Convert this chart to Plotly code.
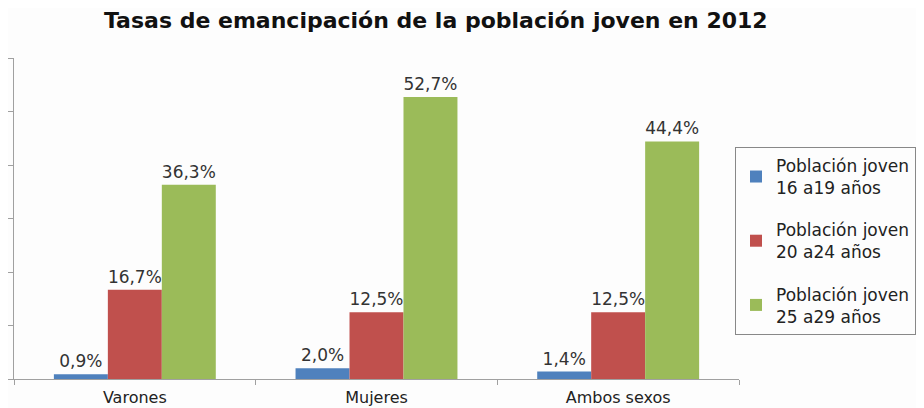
import plotly.graph_objects as go

categories = ["Varones", "Mujeres", "Ambos sexos"]
series_names = ["Población joven<br>16 a19 años",
                "Población joven<br>20 a24 años",
                "Población joven<br>25 a29 años"]
values_16_19 = [0.9, 2.0, 1.4]
values_20_24 = [16.7, 12.5, 12.5]
values_25_29 = [36.3, 52.7, 44.4]

colors = ['#4f81bd', '#c0504d', '#9bbb59']

fig = go.Figure()

for i, (name, vals) in enumerate(zip(series_names, [values_16_19, values_20_24, values_25_29])):
    fig.add_trace(go.Bar(
        x=categories,
        y=vals,
        name=name,
        legendgroup=str(i),
        marker=dict(color=colors[i], line=dict(width=0)),
        text=[f"{v:.1f}%".replace('.', ',') for v in vals],
        textposition='outside',
        textfont=dict(family="DejaVu Sans", size=17, color='#333333'),
        cliponaxis=False
    ))

# la página deja 8px de margen en el body, se compensa aquí
fig.update_layout(
    width=924,
    height=408,
    autosize=False,
    margin=dict(l=6, r=193, t=50, b=37, autoexpand=False),
    paper_bgcolor='#fdfdfd',
    plot_bgcolor='#fdfdfd',
    barmode='group',
    bargap=0.33,
    bargroupgap=0,
    title=dict(
        text="<b>Tasas de emancipación de la población joven en 2012</b>",
        font=dict(family="DejaVu Sans", size=22, color='#111111'),
        x=0.463,
        xanchor='center',
        y=0.97,
        yanchor='middle'
    ),
    xaxis=dict(
        showline=True,
        linecolor='#a0a0a0',
        linewidth=1,
        ticks='outside',
        tickson='boundaries',
        ticklen=5,
        tickcolor='#a0a0a0',
        ticklabelstandoff=4,
        tickfont=dict(family="DejaVu Sans", size=16, color='#222222'),
        showgrid=False,
        automargin=False
    ),
    yaxis=dict(
        range=[0, 60],
        dtick=10,
        showline=True,
        linecolor='#a0a0a0',
        linewidth=1,
        ticks='outside',
        ticklen=5,
        tickcolor='#a0a0a0',
        showticklabels=False,
        showgrid=False,
        zeroline=False,
        automargin=False
    ),
    legend=dict(
        x=0.9945,
        xanchor='left',
        y=0.723,
        yanchor='top',
        font=dict(family="DejaVu Sans", size=17, color='#222222'),
        bgcolor='#fdfdfd',
        bordercolor='#888888',
        borderwidth=1,
        tracegroupgap=17,
        itemwidth=30
    )
)

fig.write_html("out.html")
